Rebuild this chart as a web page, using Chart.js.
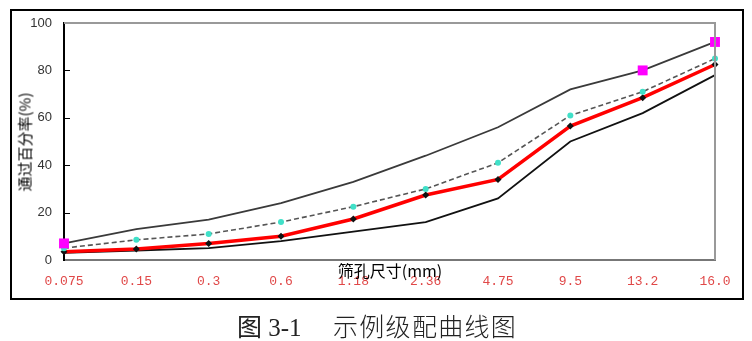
<!DOCTYPE html>
<html>
<head>
<meta charset="utf-8">
<script src="https://cdn.jsdelivr.net/npm/chart.js@4.4.1/dist/chart.umd.min.js"></script>
<style>
  html, body { margin:0; padding:0; background:#fff; }
  #wrap { position:relative; width:752px; height:341px; overflow:hidden; }
  #frame { position:absolute; left:10px; top:9px; width:730px; height:287px; border:2px solid #000; box-sizing:content-box; }
  canvas { position:absolute; left:0; top:0; }
  .t { position:absolute; color:#000; white-space:nowrap; font-family:"Noto Sans CJK SC", sans-serif; }
  #ytitle { left:24px; top:142px; font-size:15px; transform:translate(-50%,-50%) rotate(-90deg); }
  #xtitle { left:390px; top:270px; font-size:16px; transform:translate(-50%,-50%); }
  #cap1 { left:237px; top:325px; font-size:25px; transform:translateY(-50%); font-family:"Liberation Serif","Noto Sans CJK SC",serif; color:#222; }
  #cap2 { left:333px; top:325px; font-size:25px; letter-spacing:1.3px; transform:translateY(-50%); font-family:"Noto Sans CJK SC",serif; color:#222; font-weight:300; }
</style>
</head>
<body>
<div id="wrap">
  <div id="frame"></div>
  <canvas id="c" width="752" height="341"></canvas>
  <div class="t" id="ytitle">通过百分率(%)</div>
  <div class="t" id="xtitle">筛孔尺寸(mm)</div>
  <div class="t" id="cap1">图 3-1</div>
  <div class="t" id="cap2">示例级配曲线图</div>
</div>
<script>
const sieveSizes = ["0.075","0.15","0.3","0.6","1.18","2.36","4.75","9.5","13.2","16.0"];
const upperLimit = [7, 13, 17, 24, 33, 44, 56, 72, 80, 92];
const lowerLimit = [3, 4, 5, 8, 12, 16, 26, 50, 62, 78];
const medianLine = [5, 8.5, 11, 16, 22.5, 30, 41, 61, 71, 85];
const actualGrading = [3.5, 4.6, 7, 10, 17.3, 27.4, 34, 56.5, 68.5, 82.5];
const markedUpper = [true,false,false,false,false,false,false,false,true,true];
const yTicks = [0, 20, 40, 60, 80, 100];

const framePlugin = {
  id: 'framePlugin',
  afterDraw(chart) {
    const {ctx, chartArea:a, scales:{y}} = chart;
    ctx.save();
    ctx.strokeStyle = '#999';
    ctx.lineWidth = 2;
    ctx.beginPath();
    ctx.moveTo(a.left, a.top); ctx.lineTo(a.right, a.top); ctx.lineTo(a.right, a.bottom);
    ctx.stroke();
    ctx.strokeStyle = '#000';
    ctx.lineWidth = 1;
    yTicks.forEach(v => {
      if (v === 0 || v === 100) return;
      const py = Math.round(y.getPixelForValue(v)) + 0.5;
      ctx.beginPath(); ctx.moveTo(a.left, py); ctx.lineTo(a.left + 6, py); ctx.stroke();
    });
    ctx.restore();
  }
};

new Chart(document.getElementById('c'), {
  type: 'line',
  data: {
    labels: sieveSizes,
    datasets: [
      {
        label: '上限', data: upperLimit, order: 0,
        borderColor: '#3a3a3a', borderWidth: 1.8, tension: 0,
        pointStyle: 'rect',
        pointRadius: markedUpper.map(m => m ? 7 : 0),
        pointBackgroundColor: '#ff00ff', pointBorderColor: '#ff00ff', pointBorderWidth: 0
      },
      {
        label: '中值', data: medianLine, order: 1,
        borderColor: '#555', borderWidth: 1.6, borderDash: [5, 3], tension: 0,
        pointStyle: 'circle', pointRadius: 3,
        pointBackgroundColor: '#40e0c8', pointBorderColor: '#40e0c8', pointBorderWidth: 0
      },
      {
        label: '合成级配', data: actualGrading, order: 2,
        borderColor: '#ff0000', borderWidth: 3.5, tension: 0,
        pointStyle: 'rectRot', pointRadius: 3.5,
        pointBackgroundColor: '#111', pointBorderColor: '#111', pointBorderWidth: 0
      },
      {
        label: '下限', data: lowerLimit, order: 3,
        borderColor: '#111', borderWidth: 1.8, tension: 0,
        pointRadius: 0
      }
    ]
  },
  options: {
    responsive: false,
    animation: false,
    events: [],
    layout: { padding: { left: 14, right: 37, top: 23, bottom: 41 } },
    plugins: { legend: { display: false }, tooltip: { enabled: false } },
    scales: {
      x: {
        type: 'category', offset: false,
        afterFit(s) { s.height = 40; },
        grid: { display: false, drawTicks: false },
        border: { display: true, color: '#777', width: 2 },
        ticks: { color: '#e04848', font: { family: 'Liberation Mono', size: 13 }, padding: 14, maxRotation: 0, autoSkip: false }
      },
      y: {
        min: 0, max: 100,
        afterFit(s) { s.width = 50; },
        afterBuildTicks(s) { s.ticks = yTicks.map(v => ({ value: v })); },
        grid: { display: false, drawTicks: false },
        border: { display: true, color: '#000', width: 2 },
        ticks: { color: '#333', font: { family: 'Liberation Sans', size: 13 }, padding: 12 }
      }
    }
  },
  plugins: [framePlugin]
});
</script>
</body>
</html>
